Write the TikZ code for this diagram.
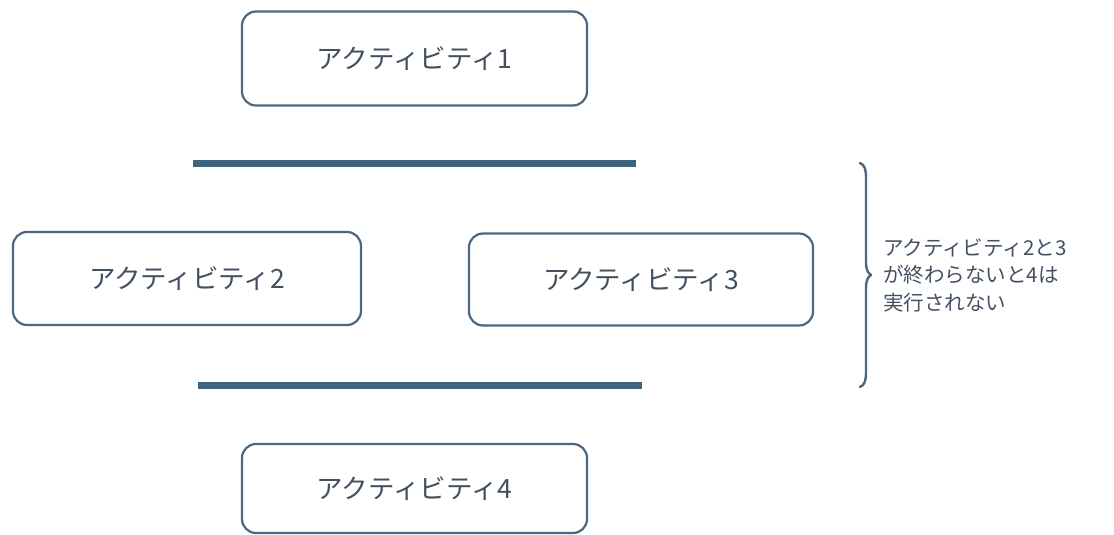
\documentclass[tikz,border=0pt]{standalone}
\usepackage{fontspec}
\setmainfont{Noto Sans CJK JP}
\definecolor{boxc}{RGB}{76,104,128}
\definecolor{barc}{RGB}{62,100,128}
\definecolor{txtc}{RGB}{66,80,96}
\begin{document}
\begin{tikzpicture}[x=1pt,y=-1pt,
  act/.style={draw=boxc, line width=2.2pt, rounded corners=14pt, text=txtc,
    font=\fontsize{26.5}{30}\selectfont, inner sep=0pt},
  bar/.style={draw=barc, line width=7pt},
  bracec/.style={draw=boxc, line width=2.4pt, line cap=round, line join=round},
  note/.style={text=txtc, font=\fontsize{20.5}{27.5}\selectfont, align=left, inner sep=0pt}
]
\useasboundingbox (0,0) rectangle (1114,535);
\node[act, minimum width=345pt, minimum height=94pt] (a1) at (414.5,58.5) {アクティビティ1};
\node[act, minimum width=348pt, minimum height=93pt] (a2) at (187,278.5) {アクティビティ2};
\node[act, minimum width=344pt, minimum height=92pt] (a3) at (641,279.5) {アクティビティ3};
\node[act, minimum width=345pt, minimum height=89pt] (a4) at (414.5,488.5) {アクティビティ4};
\coordinate (b1l) at (193,163);
\coordinate (b1r) at (636,163);
\coordinate (b2l) at (198,385);
\coordinate (b2r) at (642,385);
\draw[bar] (b1l) -- (b1r);
\draw[bar] (b2l) -- (b2r);
\coordinate (bt) at (860,163);
\coordinate (bm) at (871,275);
\coordinate (bb) at (860,387);
\draw[bracec] (bt) .. controls (865,165) and (866,170) .. (866,178) -- (866,262)
  .. controls (866,270) and (868,273) .. (bm)
  .. controls (868,277) and (866,280) .. (866,288) -- (866,372)
  .. controls (866,380) and (865,385) .. (bb);
\node[note, anchor=west] (n) at (883,275) {アクティビティ2と3\\が終わらないと4は\\実行されない};
\end{tikzpicture}
\end{document}
